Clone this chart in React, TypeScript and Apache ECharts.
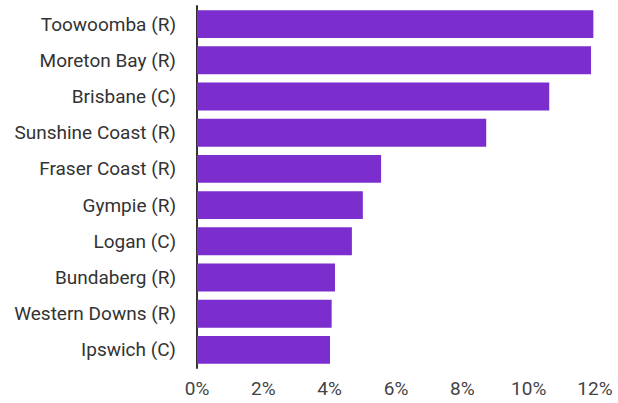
import React, { useEffect, useRef } from "react";
import * as echarts from "echarts";

const categories = [
  "Toowoomba (R)",
  "Moreton Bay (R)",
  "Brisbane (C)",
  "Sunshine Coast (R)",
  "Fraser Coast (R)",
  "Gympie (R)",
  "Logan (C)",
  "Bundaberg (R)",
  "Western Downs (R)",
  "Ipswich (C)",
];
const values = [11.95, 11.88, 10.62, 8.72, 5.55, 5.0, 4.67, 4.16, 4.06, 4.01];

export default function App() {
  const ref = useRef<HTMLDivElement>(null);
  useEffect(() => {
    const chart = echarts.init(ref.current!, null, { renderer: "svg" });
    chart.setOption({
      animation: false,
      grid: { left: 197, right: 23, top: 6, bottom: 35 },
      xAxis: {
        type: "value",
        min: 0,
        max: 12,
        interval: 2,
        axisLine: { show: false },
        axisTick: { show: false },
        splitLine: { show: false },
        axisLabel: {
          formatter: "{value}%",
          color: "#444",
          fontFamily: "Roboto",
          fontSize: 19,
          margin: 11,
        },
      },
      yAxis: {
        type: "category",
        data: categories,
        inverse: true,
        axisLine: { show: true, lineStyle: { color: "#333", width: 2 } },
        axisTick: { show: false },
        axisLabel: {
          color: "#333",
          fontFamily: "Roboto",
          fontSize: 19,
          margin: 21,
        },
      },
      series: [
        {
          type: "bar",
          data: values,
          barCategoryGap: "23%",
          itemStyle: { color: "#7b2ecd" },
        },
      ],
    });
    return () => chart.dispose();
  }, []);
  return <div ref={ref} style={{ width: 618, height: 403, position: "absolute", left: 0, top: 0 }} />;
}
